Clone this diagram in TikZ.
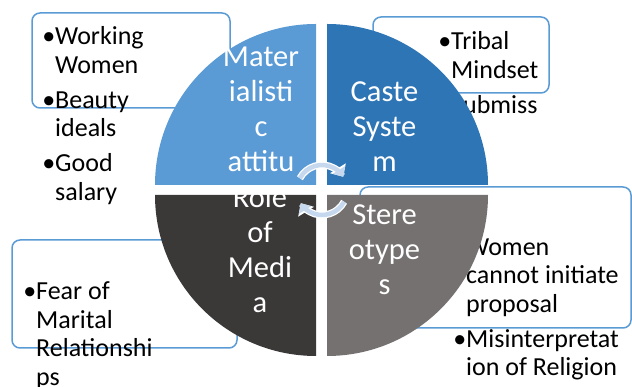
\documentclass[tikz,border=0pt]{standalone}
\usepackage{fontspec}
\setmainfont{Carlito}
\usetikzlibrary{arrows.meta,positioning}
\definecolor{matblue}{HTML}{5B9BD5}
\definecolor{casteblue}{HTML}{2E75B6}
\definecolor{mediagray}{HTML}{3B3838}
\definecolor{stereogray}{HTML}{767171}
\definecolor{cycleblue}{HTML}{C5D8EE}
\tikzset
{
    sidebox/.style     = {draw=matblue, line width=1.5pt, rounded corners=8pt, fill=white, inner sep=0pt},
    sidetext/.style    = {font=\fontsize{26}{28.5}\selectfont, align=left, anchor=base west, inner sep=0pt},
    quartertext/.style = {font=\fontsize{30.5}{35}\selectfont, text=white, align=center, anchor=base, inner sep=0pt},
    cyclearrow/.style  = {draw=cycleblue, line width=4.5pt, -{Triangle[length=8pt,width=14pt]},
                          preaction={draw=white, line width=7pt, -{Triangle[length=10pt,width=18pt]}}}
}
\newcommand{\bul}{\llap{•}}

\begin{document}
\begin{tikzpicture}[x=1pt, y=1pt]
\useasboundingbox (0,0) rectangle (632,387);

% side boxes
\node (matbox)		[sidebox, minimum width=198pt, minimum height=95pt]		at (131,326.5)	{};
\node (castebox)	[sidebox, minimum width=176pt, minimum height=76pt]		at (461,332)	{};
\node (stereobox)	[sidebox, minimum width=271pt, minimum height=141pt]	at (495.5,129.5) {};
\node (mediabox)	[sidebox, minimum width=225pt, minimum height=108pt]	at (124.5,93)	{};

% anchors sit on the last line
\node (mattext)		[sidetext]	at (55,186.5)	{\bul Working\\Women\\[6.5pt]\bul Beauty\\ideals\\[6.5pt]\bul Good\\salary};
\node (castetext)	[sidetext]	at (451,273.5)	{\bul Tribal\\Mindset\\[6.5pt]\bul Submiss};
\node (stereotext)	[sidetext]	at (466,11)		{\bul Women\\cannot initiate\\proposal\\[6.5pt]\bul Misinterpretat\\ion of Religion};
\node (mediatext)	[sidetext]	at (36,1.5)		{\bul Fear of\\Marital\\Relationshi\\ps};

% quarters of the circle
\fill[matblue]    (316,202) -- (155,202) arc[start angle=180, end angle=90,  radius=161pt] -- cycle;
\fill[casteblue]  (327,202) -- (327,363) arc[start angle=90,  end angle=0,   radius=161pt] -- cycle;
\fill[mediagray]  (316,192) -- (155,192) arc[start angle=180, end angle=270, radius=161pt] -- cycle;
\fill[stereogray] (327,192) -- (488,192) arc[start angle=0,   end angle=-90, radius=161pt] -- cycle;

\node (mat)		[quartertext]	at (261,215)	{Mater\\ialisti\\c\\attitu};
\node (caste)	[quartertext]	at (384.5,215)	{Caste\\Syste\\m};
\node (media)	[quartertext]	at (260,74)		{Role\\of\\Medi\\a};
\node (stereo)	[quartertext]	at (384.5,92)	{Stere\\otype\\s};

% cycle arrows
\coordinate (ctr) at (322,197);
\draw[cyclearrow] ([shift={(152:25pt)}]ctr) arc[start angle=152, end angle=32,   radius=25pt];
\draw[cyclearrow] ([shift={(-28:25pt)}]ctr) arc[start angle=-28, end angle=-148, radius=25pt];
\end{tikzpicture}
\end{document}
